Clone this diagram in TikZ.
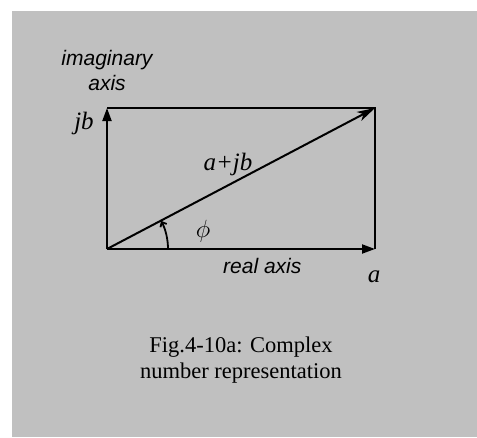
\documentclass[tikz,border=0pt]{standalone}
\usepackage{fontspec}
\setmainfont{Liberation Serif}
\setsansfont{Liberation Sans}
\usetikzlibrary{arrows.meta}
\definecolor{bggray}{HTML}{C0C0C0}
\begin{document}
\begin{tikzpicture}[x=1pt,y=-1pt,
  vec/.style={line width=2pt,-{Triangle[length=13pt,width=9pt]}},
  edge/.style={line width=1.4pt},
  lab/.style={font=\sffamily\itshape\fontsize{21}{25.5}\selectfont,align=center,inner sep=0pt},
  mathlab/.style={font=\itshape\fontsize{25}{28}\selectfont,inner sep=0pt},
  captext/.style={font=\fontsize{22.5}{26}\selectfont,align=center,inner sep=0pt}]
\useasboundingbox (0,0) rectangle (477,437);
\fill[bggray] (12,11) rectangle (477,437);
\coordinate (O) at (107,249);
\coordinate (TL) at (107,108);
\coordinate (TR) at (375,108);
\coordinate (BR) at (375,249);
\draw[edge] (TL) -- (TR) -- (BR);
\draw[vec] (O) -- (TL);
\draw[vec] (O) -- (BR);
\draw[vec,-{Stealth[length=18pt,width=10pt,inset=5pt]}] (O) -- (TR);
\draw[line width=1.8pt,-{Straight Barb[length=4pt,width=7pt]}] (168,249) arc[start angle=0,end angle=-27.5,radius=61];
\node[font=\fontsize{26}{28}\selectfont,inner sep=0pt] (phi) at (203,231) {$\phi$};
\node[mathlab,anchor=base] (jb) at (84,129) {jb};
\node[mathlab,anchor=base] (a) at (374,282) {a};
\node[mathlab,anchor=base] (apjb) at (228,170) {a+jb};
\node[lab,anchor=base] (imag) at (107,65) {imaginary};
\node[lab,anchor=base] (imag2) at (107,90.5) {axis};
\node[lab,anchor=base west] (real) at (223,273) {real axis};
\node[captext,anchor=base] (caption) at (241,352) {Fig.4-10a: Complex};
\node[captext,anchor=base] (caption2) at (241,378) {number representation};
\end{tikzpicture}
\end{document}
